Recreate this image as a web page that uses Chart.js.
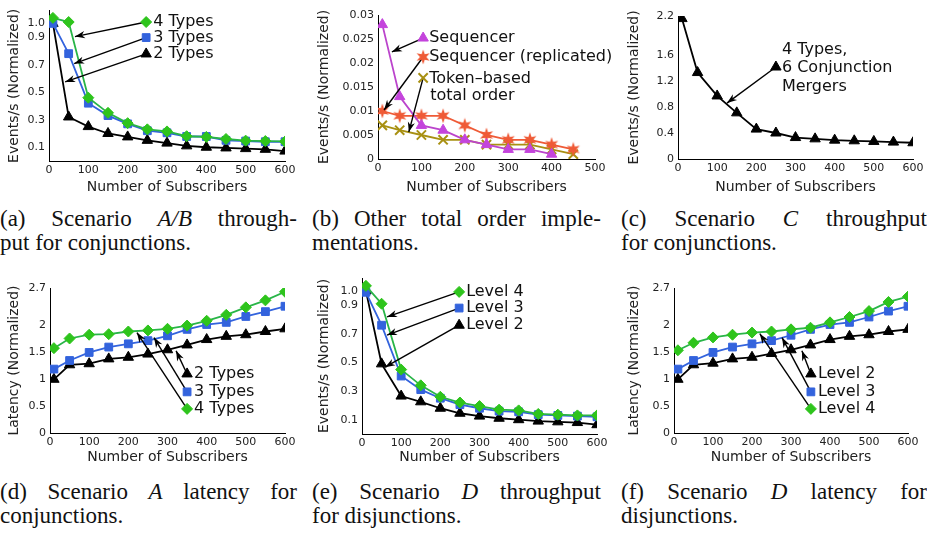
<!DOCTYPE html>
<html>
<head>
<meta charset="utf-8">
<script src="https://cdn.jsdelivr.net/npm/chart.js@4"></script>
<style>
body{margin:0;background:#fff;}
#page{position:relative;width:927px;height:538px;overflow:hidden;background:#fff}
canvas{position:absolute}
.cap{position:absolute;font-family:"Liberation Serif","Times New Roman",serif;font-size:23px;line-height:24px;color:#111}
.cap .j{display:flex;justify-content:space-between;white-space:nowrap}
.cap .l{white-space:nowrap}
</style>
</head>
<body>
<div id="page">
<canvas id="ca" width="310" height="200" style="left:0;top:0"></canvas>
<canvas id="cb" width="310" height="200" style="left:310px;top:0"></canvas>
<canvas id="cc" width="307" height="200" style="left:620px;top:0"></canvas>
<canvas id="cd" width="310" height="210" style="left:0;top:260px"></canvas>
<canvas id="ce" width="310" height="210" style="left:310px;top:260px"></canvas>
<canvas id="cf" width="307" height="210" style="left:620px;top:260px"></canvas>

<div class="cap" style="left:0;top:207px;width:297px">
  <div class="j"><span>(a)</span><span>Scenario</span><span><i>A/B</i></span><span>through-</span></div>
  <div class="l">put for conjunctions.</div>
</div>
<div class="cap" style="left:312px;top:207px;width:289px">
  <div class="j"><span>(b)</span><span>Other</span><span>total</span><span>order</span><span>imple-</span></div>
  <div class="l">mentations.</div>
</div>
<div class="cap" style="left:621px;top:207px;width:306px">
  <div class="j"><span>(c)</span><span>Scenario</span><span><i>C</i></span><span>throughput</span></div>
  <div class="l">for conjunctions.</div>
</div>
<div class="cap" style="left:0;top:480px;width:297px">
  <div class="j"><span>(d)</span><span>Scenario</span><span><i>A</i></span><span>latency</span><span>for</span></div>
  <div class="l">conjunctions.</div>
</div>
<div class="cap" style="left:312px;top:480px;width:289px">
  <div class="j"><span>(e)</span><span>Scenario</span><span><i>D</i></span><span>throughput</span></div>
  <div class="l">for disjunctions.</div>
</div>
<div class="cap" style="left:621px;top:480px;width:306px">
  <div class="j"><span>(f)</span><span>Scenario</span><span><i>D</i></span><span>latency</span><span>for</span></div>
  <div class="l">disjunctions.</div>
</div>
</div>

<script>
// x values (number of subscribers)
var subs = [10, 50, 100, 150, 200, 250, 300, 350, 400, 450, 500, 550, 600];
var subsSeq = [10, 50, 100, 150, 200, 250, 300, 350, 400];
var subsB = [10, 50, 100, 150, 200, 250, 300, 350, 400, 450];

// (a) scenario A/B throughput
var thrA4 = [1.04, 1.01, 0.46, 0.35, 0.275, 0.23, 0.215, 0.18, 0.175, 0.16, 0.148, 0.145, 0.142];
var thrA3 = [1.0, 0.78, 0.42, 0.33, 0.27, 0.22, 0.205, 0.178, 0.178, 0.15, 0.145, 0.14, 0.14];
var thrA2 = [1.0, 0.32, 0.25, 0.2, 0.175, 0.15, 0.13, 0.11, 0.10, 0.095, 0.09, 0.085, 0.072];

// (b) other total order implementations
var seqB = [0.028, 0.013, 0.007, 0.006, 0.004, 0.003, 0.002, 0.002, 0.001];
var seqReplB = [0.010, 0.009, 0.009, 0.009, 0.007, 0.005, 0.004, 0.004, 0.003, 0.002];
var tokenB = [0.007, 0.006, 0.005, 0.004, 0.004, 0.003, 0.003, 0.003, 0.002, 0.001];

// (c) scenario C throughput
var thrC = [2.16, 1.33, 0.97, 0.71, 0.46, 0.40, 0.33, 0.31, 0.29, 0.28, 0.27, 0.26, 0.25];

// (d) scenario A latency
var latA4 = [1.58, 1.76, 1.83, 1.84, 1.89, 1.91, 1.94, 2.0, 2.09, 2.2, 2.34, 2.47, 2.63];
var latA3 = [1.19, 1.35, 1.5, 1.6, 1.66, 1.72, 1.81, 1.93, 2.02, 2.06, 2.17, 2.26, 2.36];
var latA2 = [1.0, 1.27, 1.29, 1.38, 1.41, 1.47, 1.55, 1.64, 1.74, 1.8, 1.83, 1.89, 1.94];

// (e) scenario D throughput
var thrD4 = [1.035, 0.91, 0.45, 0.34, 0.26, 0.22, 0.195, 0.17, 0.165, 0.14, 0.135, 0.13, 0.13];
var thrD3 = [0.99, 0.76, 0.405, 0.31, 0.25, 0.205, 0.18, 0.16, 0.155, 0.135, 0.13, 0.125, 0.12];
var thrD2 = [1.0, 0.49, 0.265, 0.225, 0.18, 0.145, 0.125, 0.11, 0.10, 0.09, 0.085, 0.08, 0.065];

// (f) scenario D latency
var latD4 = [1.54, 1.68, 1.78, 1.83, 1.87, 1.89, 1.93, 1.96, 2.06, 2.16, 2.27, 2.44, 2.54];
var latD3 = [1.19, 1.35, 1.5, 1.6, 1.66, 1.72, 1.82, 1.93, 2.02, 2.06, 2.16, 2.27, 2.36];
var latD2 = [1.0, 1.27, 1.3, 1.38, 1.41, 1.48, 1.55, 1.64, 1.74, 1.8, 1.83, 1.89, 1.93];

// tick values / labels
var ticksThr = [0.1, 0.3, 0.5, 0.7, 0.9, 1.0];
var labelsThr = ["0.1", "0.3", "0.5", "0.7", "0.9", "1.0"];
var ticksB = [0, 0.005, 0.01, 0.015, 0.02, 0.025, 0.03];
var labelsB = ["0", "0.005", "0.01", "0.015", "0.02", "0.025", "0.03"];
var ticksC = [0, 0.4, 0.8, 1.2, 1.6, 2.2];
var labelsC = ["0", "0.4", "0.8", "1.2", "1.6", "2.2"];
var ticksLat = [0, 0.5, 1, 1.5, 2, 2.7];
var labelsLat = ["0", "0.5", "1", "1.5", "2", "2.7"];

var GREEN = '#29b548', GREENPT = '#2ec41c', BLUE = '#3363dd', BLACK = '#000';
var MAGENTA = '#bb44cc', MAGPT = '#c444dc', ORANGE = '#ef5a36', OLIVE = '#a89012';
var FONT = '"DejaVu Sans", "Liberation Sans", sans-serif';

function starImg(color) {
  var c = document.createElement('canvas');
  c.width = 16; c.height = 16;
  var g = c.getContext('2d');
  g.fillStyle = color;
  g.beginPath();
  for (var k = 0; k < 12; k++) {
    var r = k % 2 ? 3.2 : 7.5, a = Math.PI / 6 * k - Math.PI / 2;
    g.lineTo(8 + r * Math.cos(a), 8 + r * Math.sin(a));
  }
  g.closePath();
  g.fill();
  return c;
}
var STAR = starImg(ORANGE);

function series(xs, ys, o) {
  var d = {
    data: xs.map(function (x, i) { return {x: x, y: ys[i]}; }),
    borderWidth: 1.8, pointRadius: 5.5, pointBorderWidth: 1, tension: 0, fill: false
  };
  for (var k in o) d[k] = o[k];
  return d;
}

// small marker painter for the callout labels
function mark(ctx, style, x, y, r, color) {
  ctx.save();
  ctx.fillStyle = color; ctx.strokeStyle = color; ctx.lineWidth = 1;
  ctx.beginPath();
  if (style === 'rectRot') {
    ctx.moveTo(x, y - r); ctx.lineTo(x + r, y); ctx.lineTo(x, y + r); ctx.lineTo(x - r, y);
    ctx.closePath(); ctx.fill(); ctx.stroke();
  } else if (style === 'rect') {
    var s = r * Math.SQRT1_2;
    ctx.rect(x - s, y - s, 2 * s, 2 * s); ctx.fill(); ctx.stroke();
  } else if (style === 'triangle') {
    ctx.moveTo(x, y - r);
    ctx.lineTo(x + r * Math.sin(2 * Math.PI / 3), y - r * Math.cos(2 * Math.PI / 3));
    ctx.lineTo(x + r * Math.sin(4 * Math.PI / 3), y - r * Math.cos(4 * Math.PI / 3));
    ctx.closePath(); ctx.fill(); ctx.stroke();
  } else if (style === 'crossRot') {
    var q = r * Math.SQRT1_2;
    ctx.lineWidth = 2;
    ctx.moveTo(x - q, y - q); ctx.lineTo(x + q, y + q);
    ctx.moveTo(x + q, y - q); ctx.lineTo(x - q, y + q);
    ctx.stroke();
  } else if (style === 'star') {
    ctx.drawImage(STAR, x - 8, y - 8);
  }
  ctx.restore();
}

function arrow(ctx, x0, y0, x1, y1) {
  ctx.beginPath(); ctx.moveTo(x0, y0); ctx.lineTo(x1, y1); ctx.stroke();
  var a = Math.atan2(y1 - y0, x1 - x0), L = 10, W = 3.6;
  var c = Math.cos(a), s = Math.sin(a);
  ctx.beginPath();
  ctx.moveTo(x1, y1);
  ctx.lineTo(x1 - L * c + W * s, y1 - L * s - W * c);
  ctx.lineTo(x1 - 0.7 * L * c, y1 - 0.7 * L * s);
  ctx.lineTo(x1 - L * c - W * s, y1 - L * s + W * c);
  ctx.closePath(); ctx.fill();
}

// callouts: marker at (x,y), arrow to (tx,ty), all in data units
var notes = {
  ca: [
    {style: 'triangle', color: BLACK, r: 6, x: 247, y: 0.778, tx: 41, ty: 0.575, lines: [[7, 0, '2 Types']]},
    {style: 'rect', color: BLUE, r: 5.5, x: 247, y: 0.897, tx: 64, ty: 0.708, lines: [[7, 0, '3 Types']]},
    {style: 'rectRot', color: GREENPT, r: 5.5, x: 247, y: 1.01, tx: 66, ty: 0.904, lines: [[7, 0, '4 Types']]}
  ],
  cb: [
    {style: 'triangle', color: MAGPT, r: 6, x: 104, y: 0.0252, tx: 32, ty: 0.0223, lines: [[6, 0, 'Sequencer']]},
    {style: 'star', color: ORANGE, r: 6, x: 104, y: 0.02125, tx: 14, ty: 0.0102, lines: [[6, 0, 'Sequencer (replicated)']]},
    {style: 'crossRot', color: OLIVE, r: 6.5, x: 104, y: 0.0169, tx: 71, ty: 0.0056, lines: [[6, 1, 'Token\u2013based'], [7, 18, 'total order']]}
  ],
  cc: [
    {style: 'triangle', color: BLACK, r: 6, x: 250, y: 1.415, tx: 125, ty: 0.86, lines: [[6, -17, '4 Types,'], [6, 1, '6 Conjunction'], [6, 20, 'Mergers']]}
  ],
  cd: [
    {style: 'triangle', color: BLACK, r: 6, x: 350, y: 1.10, tx: 322, ty: 1.53, lines: [[7, 0, '2 Types']]},
    {style: 'rect', color: BLUE, r: 5.5, x: 350, y: 0.766, tx: 265.5, ty: 1.776, lines: [[7, 0, '3 Types']]},
    {style: 'rectRot', color: GREENPT, r: 5.5, x: 350, y: 0.449, tx: 222, ty: 1.87, lines: [[7, 0, '4 Types']]}
  ],
  ce: [
    {style: 'triangle', color: BLACK, r: 6, x: 248, y: 0.76, tx: 59, ty: 0.467, lines: [[7, 0, 'Level 2']]},
    {style: 'rect', color: BLUE, r: 5.5, x: 248, y: 0.88, tx: 64, ty: 0.691, lines: [[7, 0, 'Level 3']]},
    {style: 'rectRot', color: GREENPT, r: 5.5, x: 248, y: 0.993, tx: 64, ty: 0.818, lines: [[7, 0, 'Level 4']]}
  ],
  cf: [
    {style: 'triangle', color: BLACK, r: 6, x: 351, y: 1.10, tx: 328, ty: 1.53, lines: [[7, 0, 'Level 2']]},
    {style: 'rect', color: BLUE, r: 5.5, x: 351, y: 0.766, tx: 277, ty: 1.776, lines: [[7, 0, 'Level 3']]},
    {style: 'rectRot', color: GREENPT, r: 5.5, x: 351, y: 0.449, tx: 220, ty: 1.85, lines: [[7, 0, 'Level 4']]}
  ]
};

var notesPlugin = {
  id: 'notes',
  afterDatasetsDraw: function (chart) {
    var list = notes[chart.canvas.id] || [];
    var ctx = chart.ctx, xs = chart.scales.x, ys = chart.scales.y;
    ctx.save();
    list.forEach(function (n) {
      var px = xs.getPixelForValue(n.x), py = ys.getPixelForValue(n.y);
      var qx = xs.getPixelForValue(n.tx), qy = ys.getPixelForValue(n.ty);
      ctx.strokeStyle = '#000'; ctx.fillStyle = '#000'; ctx.lineWidth = 1.4;
      arrow(ctx, px, py, qx, qy);
    });
    list.forEach(function (n) {
      var px = xs.getPixelForValue(n.x), py = ys.getPixelForValue(n.y);
      mark(ctx, n.style, px, py, n.r, n.color);
      ctx.fillStyle = '#111';
      ctx.font = '16px ' + FONT;
      ctx.textBaseline = 'middle';
      ctx.textAlign = 'left';
      n.lines.forEach(function (l) { ctx.fillText(l[2], px + l[0], py + l[1]); });
    });
    ctx.restore();
  }
};

function makeChart(id, o) {
  var tickFont = {family: FONT, size: 11};
  var titleFont = {family: FONT, size: 14};
  return new Chart(document.getElementById(id), {
    type: 'line',
    data: {datasets: o.datasets},
    options: {
      responsive: false,
      animation: false,
      layout: {padding: {top: o.padT, right: o.padR, left: 0, bottom: 0}},
      plugins: {legend: {display: false}, tooltip: {enabled: false}},
      scales: {
        x: {
          type: 'linear', min: 0, max: o.xMax,
          ticks: {stepSize: 100, font: tickFont, color: '#222', maxRotation: 0, autoSkip: false, padding: 3},
          grid: {display: false, drawTicks: false},
          border: {display: true, color: '#000', width: 1},
          title: {display: true, text: 'Number of Subscribers', font: titleFont, color: '#222', padding: {top: 2, bottom: 4}},
          afterFit: function (s) { s.height = o.xH; }
        },
        y: {
          type: 'linear', min: 0, max: o.yMax,
          afterBuildTicks: function (s) { s.ticks = o.yTicks.map(function (v) { return {value: v}; }); },
          ticks: {font: tickFont, color: '#222', padding: 4, autoSkip: false,
            callback: function (v, i) { return o.yLabels[i]; }},
          grid: {display: false, drawTicks: false},
          border: {display: true, color: '#000', width: 1},
          title: {display: true, text: o.yTitle, font: titleFont, color: '#222', padding: {top: 6, bottom: 4}},
          afterFit: function (s) { s.width = o.yW; }
        }
      }
    },
    plugins: [notesPlugin]
  });
}

var thrTitle = 'Events/s (Normalized)', latTitle = 'Latency (Normalized)';

makeChart('ca', {
  yW: 49, xH: 39, padT: 5, padR: 25, xMax: 600, yMax: 1.093,
  yTicks: ticksThr, yLabels: labelsThr, yTitle: thrTitle,
  datasets: [
    series(subs, thrA4, {borderColor: GREEN, pointStyle: 'rectRot', pointBackgroundColor: GREENPT, pointBorderColor: GREENPT}),
    series(subs, thrA3, {borderColor: BLUE, pointStyle: 'rect', pointBackgroundColor: BLUE, pointBorderColor: BLUE}),
    series(subs, thrA2, {borderColor: BLACK, pointStyle: 'triangle', pointRadius: 6, pointBackgroundColor: BLACK, pointBorderColor: BLACK})
  ]
});

makeChart('cb', {
  yW: 68, xH: 41, padT: 15, padR: 25, xMax: 500, yMax: 0.03,
  yTicks: ticksB, yLabels: labelsB, yTitle: thrTitle,
  datasets: [
    series(subsSeq, seqB, {borderColor: MAGENTA, pointStyle: 'triangle', pointRadius: 6, pointBackgroundColor: MAGPT, pointBorderColor: MAGPT}),
    series(subsB, seqReplB, {borderColor: ORANGE, pointStyle: STAR, pointBackgroundColor: ORANGE, pointBorderColor: ORANGE}),
    series(subsB, tokenB, {borderColor: OLIVE, pointStyle: 'crossRot', pointRadius: 6.5, pointBorderWidth: 2, pointBackgroundColor: OLIVE, pointBorderColor: OLIVE})
  ]
});

makeChart('cc', {
  yW: 58, xH: 41, padT: 16, padR: 14, xMax: 600, yMax: 2.2,
  yTicks: ticksC, yLabels: labelsC, yTitle: thrTitle,
  datasets: [
    series(subs, thrC, {borderColor: BLACK, pointStyle: 'triangle', pointRadius: 6, pointBackgroundColor: BLACK, pointBorderColor: BLACK})
  ]
});

makeChart('cd', {
  yW: 50, xH: 37, padT: 28, padR: 25, xMax: 600, yMax: 2.7,
  yTicks: ticksLat, yLabels: labelsLat, yTitle: latTitle,
  datasets: [
    series(subs, latA4, {borderColor: GREEN, pointStyle: 'rectRot', pointBackgroundColor: GREENPT, pointBorderColor: GREENPT}),
    series(subs, latA3, {borderColor: BLUE, pointStyle: 'rect', pointBackgroundColor: BLUE, pointBorderColor: BLUE}),
    series(subs, latA2, {borderColor: BLACK, pointStyle: 'triangle', pointRadius: 6, pointBackgroundColor: BLACK, pointBorderColor: BLACK})
  ]
});

makeChart('ce', {
  yW: 52, xH: 36, padT: 18, padR: 23, xMax: 600, yMax: 1.09,
  yTicks: ticksThr, yLabels: labelsThr, yTitle: thrTitle,
  datasets: [
    series(subs, thrD4, {borderColor: GREEN, pointStyle: 'rectRot', pointBackgroundColor: GREENPT, pointBorderColor: GREENPT}),
    series(subs, thrD3, {borderColor: BLUE, pointStyle: 'rect', pointBackgroundColor: BLUE, pointBorderColor: BLUE}),
    series(subs, thrD2, {borderColor: BLACK, pointStyle: 'triangle', pointRadius: 6, pointBackgroundColor: BLACK, pointBorderColor: BLACK})
  ]
});

makeChart('cf', {
  yW: 54, xH: 37, padT: 28, padR: 19, xMax: 600, yMax: 2.7,
  yTicks: ticksLat, yLabels: labelsLat, yTitle: latTitle,
  datasets: [
    series(subs, latD4, {borderColor: GREEN, pointStyle: 'rectRot', pointBackgroundColor: GREENPT, pointBorderColor: GREENPT}),
    series(subs, latD3, {borderColor: BLUE, pointStyle: 'rect', pointBackgroundColor: BLUE, pointBorderColor: BLUE}),
    series(subs, latD2, {borderColor: BLACK, pointStyle: 'triangle', pointRadius: 6, pointBackgroundColor: BLACK, pointBorderColor: BLACK})
  ]
});
</script>
</body>
</html>
